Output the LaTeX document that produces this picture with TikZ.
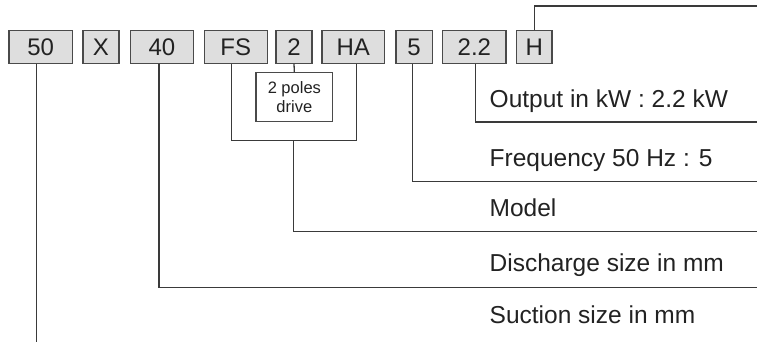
\documentclass[tikz,border=0pt]{standalone}
\usepackage{fontspec}
\setmainfont{Liberation Sans}
\definecolor{boxfill}{HTML}{DEDEDE}
\definecolor{boxline}{HTML}{4A4A4A}
\definecolor{connline}{HTML}{3A3A3A}
\definecolor{txt}{HTML}{222222}
\begin{document}
\begin{tikzpicture}[x=1pt,y=-1pt,
  codebox/.style={draw=boxline,fill=boxfill,line width=1.2pt,inner sep=0pt,minimum height=32.6pt,text=txt,font=\fontsize{24}{28}\selectfont},
  polebox/.style={draw=boxline,fill=white,line width=1.1pt,inner sep=0pt,minimum width=76.7pt,minimum height=49pt,align=center,text=txt,font=\fontsize{16.5}{18.3}\selectfont},
  conn/.style={draw=connline,line width=1.3pt},
  lbl/.style={anchor=base west,inner sep=0pt,text=txt,font=\fontsize{24.5}{28}\selectfont}]
\useasboundingbox (0,0) rectangle (757,342);
% code boxes
\node[codebox,minimum width=63.3pt] (b50) at (40.65,47) {50};
\node[codebox,minimum width=36pt] (bX) at (101,47) {X};
\node[codebox,minimum width=63.4pt] (b40) at (162,47) {40};
\node[codebox,minimum width=63pt] (bFS) at (235.8,47) {FS};
\node[codebox,minimum width=36pt] (b2) at (294,47) {2};
\node[codebox,minimum width=62.5pt] (bHA) at (353.25,47) {HA};
\node[codebox,minimum width=36.3pt] (b5) at (414.15,47) {5};
\node[codebox,minimum width=63.3pt] (b22) at (474.35,47) {2.2};
\node[codebox,minimum width=35.3pt] (bH) at (534.35,47) {H};
% 2 poles drive
\node[polebox] (poles) at (294.35,97.2) {2 poles\\drive};
% labels
\node[lbl] (lout) at (489.5,107.7) {Output in kW : 2.2 kW};
\node[lbl] (lfreq) at (489.5,166.7) {Frequency 50 Hz : 5};
\node[lbl] (lmodel) at (489.5,216.7) {Model};
\node[lbl] (ldis) at (489.5,271.7) {Discharge size in mm};
\node[lbl] (lsuc) at (489.5,323.3) {Suction size in mm};
% coordinates
\coordinate (hTop) at (534.35,6);
\coordinate (hEnd) at (757,6);
\coordinate (c22) at (475.3,122);
\coordinate (e22) at (757,122);
\coordinate (c5) at (412.7,181.7);
\coordinate (e5) at (757,181.7);
\coordinate (fsj) at (231.3,140.7);
\coordinate (haj) at (356.7,140.7);
\coordinate (mj) at (293.7,140.7);
\coordinate (mc) at (293.7,231.7);
\coordinate (me) at (757,231.7);
\coordinate (c40) at (159,287.7);
\coordinate (e40) at (757,287.7);
\coordinate (c50) at (36.3,342);
% connectors
\draw[conn] (bH.north) -- (hTop) -- (hEnd);
\draw[conn] (b22.south -| c22) -- (c22) -- (e22);
\draw[conn] (b5.south -| c5) -- (c5) -- (e5);
\draw[conn] (b2.south) -- (poles.north);
\draw[conn] (bFS.south -| fsj) -- (fsj) -- (haj) -- (bHA.south -| haj);
\draw[conn] (mj) -- (mc) -- (me);
\draw[conn] (b40.south -| c40) -- (c40) -- (e40);
\draw[conn] (b50.south -| c50) -- (c50);
\end{tikzpicture}
\end{document}
